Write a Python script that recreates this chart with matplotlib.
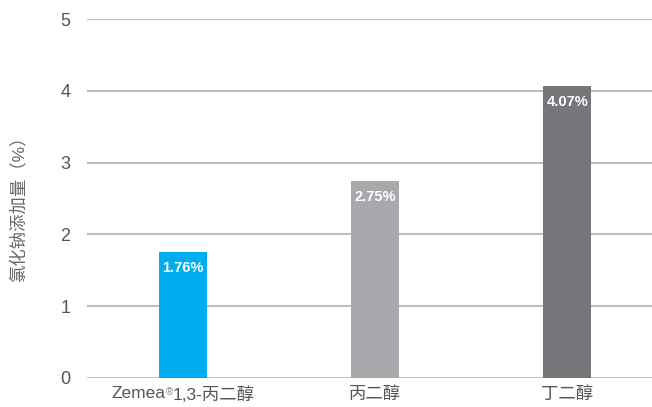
import matplotlib
matplotlib.use("Agg")
import matplotlib.pyplot as plt
from matplotlib.transforms import offset_copy

categories = ["Zemea®1,3-丙二醇", "丙二醇", "丁二醇"]
values = [1.76, 2.75, 4.07]
labels = ["1.76%", "2.75%", "4.07%"]
colors = ["#00AEEF", "#A7A9AC", "#76767A"]
yticks = [0, 1, 2, 3, 4, 5]

plt.rcParams['font.family'] = ['Liberation Sans', 'Noto Sans CJK SC', 'DejaVu Sans']

fig = plt.figure(figsize=(6.52, 4.07), dpi=100)
ax = fig.add_axes([87/652, 1-378/407, (652-87)/652, (378-19)/407])

x = list(range(len(categories)))
ax.bar(x, values, width=0.25, color=colors, zorder=3)
for xi, v, lab in zip(x, values, labels):
    ax.text(xi, v - 0.23, lab, ha='center', va='center', color='white',
            fontsize=10.5, fontweight='bold', zorder=4)

ax.set_ylim(0, 5)
ax.set_xlim(-0.5, 2.44)
ax.set_yticks(yticks)
for t in yticks:
    ax.axhline(t, color='#BDBDBD', lw=2.0 if t == 0 else 1.5, zorder=1)
ax.set_xticks(x)
ax.set_xticklabels([""] + categories[1:], color='#555555', fontsize=12.5)
ax.tick_params(axis='x', length=0, pad=6)
ax.tick_params(axis='y', length=0, pad=12, labelcolor='#555555', labelsize=13)
for s in ax.spines.values():
    s.set_visible(False)
fig.text(18/652, 1-205/407, "氯化钠添加量（%）", rotation=90, ha='center', va='center',
         color='#666666', fontsize=12.5)

# first category label with superscript ®
main, rest = categories[0].split("®")
fig.canvas.draw()
r = fig.canvas.get_renderer()
trans = ax.get_xaxis_transform()
fs = 12.5
tmp1 = ax.text(0, 0, main, fontsize=fs)
tmp2 = ax.text(0, 0, "®", fontsize=7)
tmp3 = ax.text(0, 0, rest, fontsize=fs)
w1 = tmp1.get_window_extent(r).width
w2 = tmp2.get_window_extent(r).width
w3 = tmp3.get_window_extent(r).width
for t in (tmp1, tmp2, tmp3):
    t.remove()
total = w1 + w2 + w3
ypix = -8
start = -total / 2
ax.text(0, 0, main, fontsize=fs, color='#555555', ha='left', va='top',
        transform=offset_copy(trans, fig=fig, x=start, y=ypix, units='dots'))
ax.text(0, 0, "®", fontsize=7, color='#888888', ha='left', va='top',
        transform=offset_copy(trans, fig=fig, x=start + w1, y=ypix - 1, units='dots'))
ax.text(0, 0, rest, fontsize=fs, color='#555555', ha='left', va='top',
        transform=offset_copy(trans, fig=fig, x=start + w1 + w2, y=ypix, units='dots'))

fig.savefig("out.png", dpi=100)
